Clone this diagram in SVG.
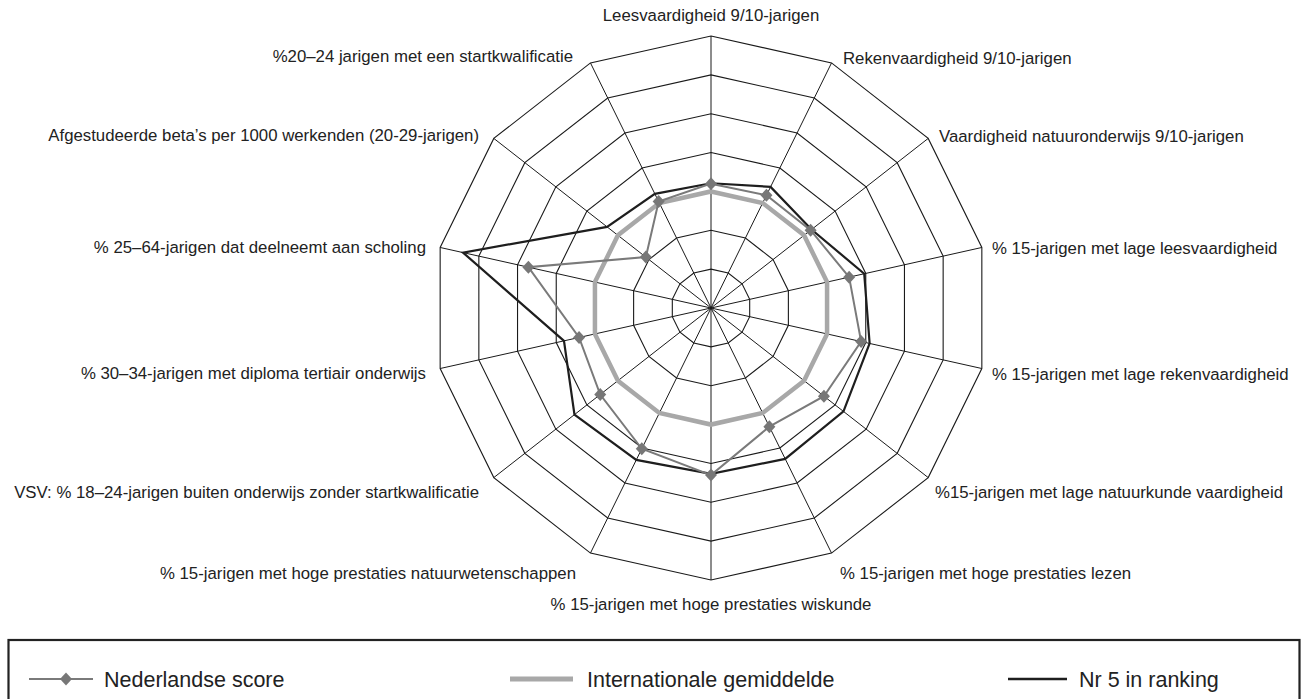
<svg xmlns="http://www.w3.org/2000/svg" xmlns:xlink="http://www.w3.org/1999/xlink" width="1308" height="699" viewBox="0 0 1308 699">
<style>
.ring{fill:none;stroke:#1a1a1a;stroke-width:1.1}
.spoke{stroke:#1a1a1a;stroke-width:1}
.intl{fill:none;stroke:#a8a8a8;stroke-width:4.5;stroke-linejoin:miter}
.nr5{fill:none;stroke:#1e1e1e;stroke-width:2.2;stroke-linejoin:miter}
.nl{fill:none;stroke:#7a7a7a;stroke-width:2}
.dm{fill:#777}
.lbl{font-family:"Liberation Sans",Arial,sans-serif;font-size:16.8px;fill:#222}
.leg{font-family:"Liberation Sans",Arial,sans-serif;font-size:21.5px;fill:#222}
</style>
<defs>
<path id="dmd" d="M0,-6.5 L6,0 L0,6.5 L-6,0Z"/>
</defs>
<rect width="1308" height="699" fill="#fff"/>
<g id="grid">
<polygon class="ring" points="711,269.14 728.22,272.99 742.03,283.77 749.69,299.35 749.69,316.65 742.03,332.23 728.22,343.01 711,346.86 693.78,343.01 679.97,332.23 672.31,316.65 672.31,299.35 679.97,283.77 693.78,272.99"/>
<polygon class="ring" points="711,230.29 745.44,237.98 773.06,259.55 788.38,290.71 788.38,325.29 773.06,356.45 745.44,378.02 711,385.71 676.56,378.02 648.94,356.45 633.62,325.29 633.62,290.71 648.94,259.55 676.56,237.98"/>
<polygon class="ring" points="711,191.43 762.66,202.97 804.08,235.32 827.07,282.06 827.07,333.94 804.08,380.68 762.66,413.03 711,424.57 659.34,413.03 617.92,380.68 594.93,333.94 594.93,282.06 617.92,235.32 659.34,202.97"/>
<polygon class="ring" points="711,152.57 779.88,167.96 835.11,211.09 865.76,273.42 865.76,342.58 835.11,404.91 779.88,448.04 711,463.43 642.12,448.04 586.89,404.91 556.24,342.58 556.24,273.42 586.89,211.09 642.12,167.96"/>
<polygon class="ring" points="711,113.71 797.1,132.95 866.14,186.86 904.46,264.77 904.46,351.23 866.14,429.14 797.1,483.05 711,502.29 624.9,483.05 555.86,429.14 517.54,351.23 517.54,264.77 555.86,186.86 624.9,132.95"/>
<polygon class="ring" points="711,74.86 814.31,97.95 897.17,162.64 943.15,256.12 943.15,359.88 897.17,453.36 814.31,518.05 711,541.14 607.69,518.05 524.83,453.36 478.85,359.88 478.85,256.12 524.83,162.64 607.69,97.95"/>
<polygon class="ring" points="711,36 831.53,62.94 928.2,138.41 981.84,247.48 981.84,368.52 928.2,477.59 831.53,553.06 711,580 590.47,553.06 493.8,477.59 440.16,368.52 440.16,247.48 493.8,138.41 590.47,62.94"/>
<line class="spoke" x1="711" y1="308" x2="711" y2="36"/>
<line class="spoke" x1="711" y1="308" x2="831.53" y2="62.94"/>
<line class="spoke" x1="711" y1="308" x2="928.2" y2="138.41"/>
<line class="spoke" x1="711" y1="308" x2="981.84" y2="247.48"/>
<line class="spoke" x1="711" y1="308" x2="981.84" y2="368.52"/>
<line class="spoke" x1="711" y1="308" x2="928.2" y2="477.59"/>
<line class="spoke" x1="711" y1="308" x2="831.53" y2="553.06"/>
<line class="spoke" x1="711" y1="308" x2="711" y2="580"/>
<line class="spoke" x1="711" y1="308" x2="590.47" y2="553.06"/>
<line class="spoke" x1="711" y1="308" x2="493.8" y2="477.59"/>
<line class="spoke" x1="711" y1="308" x2="440.16" y2="368.52"/>
<line class="spoke" x1="711" y1="308" x2="440.16" y2="247.48"/>
<line class="spoke" x1="711" y1="308" x2="493.8" y2="138.41"/>
<line class="spoke" x1="711" y1="308" x2="590.47" y2="62.94"/>
</g>
<g id="series">
<polygon id="internationaal" class="intl" points="711,191.43 762.66,202.97 804.08,235.32 827.07,282.06 827.07,333.94 804.08,380.68 762.66,413.03 711,424.57 659.34,413.03 617.92,380.68 594.93,333.94 594.93,282.06 617.92,235.32 659.34,202.97"/>
<polygon id="nr5" class="nr5" points="711,183.27 770.58,186.87 811.53,229.5 864.22,273.76 869.63,343.45 843.49,411.45 785.21,458.89 711,473.92 636.27,459.94 574.48,414.6 563.97,340.85 462.99,252.58 607.06,226.84 654.87,193.87"/>
<g id="nederland">
<polygon class="nl" points="711,183.66 766.45,195.27 810.6,230.23 849.13,277.13 861.12,341.55 823.94,396.19 769.37,426.68 711,475.09 641.78,448.74 600.23,394.49 579.06,337.48 528.38,267.19 645.84,257.12 658.65,201.57"/>
<use class="dm" xlink:href="#dmd" x="711" y="183.66"/>
<use class="dm" xlink:href="#dmd" x="766.45" y="195.27"/>
<use class="dm" xlink:href="#dmd" x="810.6" y="230.23"/>
<use class="dm" xlink:href="#dmd" x="849.13" y="277.13"/>
<use class="dm" xlink:href="#dmd" x="861.12" y="341.55"/>
<use class="dm" xlink:href="#dmd" x="823.94" y="396.19"/>
<use class="dm" xlink:href="#dmd" x="769.37" y="426.68"/>
<use class="dm" xlink:href="#dmd" x="711" y="475.09"/>
<use class="dm" xlink:href="#dmd" x="641.78" y="448.74"/>
<use class="dm" xlink:href="#dmd" x="600.23" y="394.49"/>
<use class="dm" xlink:href="#dmd" x="579.06" y="337.48"/>
<use class="dm" xlink:href="#dmd" x="528.38" y="267.19"/>
<use class="dm" xlink:href="#dmd" x="645.84" y="257.12"/>
<use class="dm" xlink:href="#dmd" x="658.65" y="201.57"/>
</g>
</g>
<g id="labels">
<text class="lbl" x="711" y="21" text-anchor="middle">Leesvaardigheid 9/10-jarigen</text>
<text class="lbl" x="843" y="64">Rekenvaardigheid 9/10-jarigen</text>
<text class="lbl" x="939" y="142">Vaardigheid natuuronderwijs 9/10-jarigen</text>
<text class="lbl" x="992" y="253.5">% 15-jarigen met lage leesvaardigheid</text>
<text class="lbl" x="992" y="379.5">% 15-jarigen met lage rekenvaardigheid</text>
<text class="lbl" x="935" y="497.5">%15-jarigen met lage natuurkunde vaardigheid</text>
<text class="lbl" x="840" y="579">% 15-jarigen met hoge prestaties lezen</text>
<text class="lbl" x="711" y="609.5" text-anchor="middle">% 15-jarigen met hoge prestaties wiskunde</text>
<text class="lbl" x="576" y="578.5" text-anchor="end">% 15-jarigen met hoge prestaties natuurwetenschappen</text>
<text class="lbl" x="479" y="497.5" text-anchor="end">VSV: % 18–24-jarigen buiten onderwijs zonder startkwalificatie</text>
<text class="lbl" x="426" y="378.5" text-anchor="end">% 30–34-jarigen met diploma tertiair onderwijs</text>
<text class="lbl" x="426" y="252.5" text-anchor="end">% 25–64-jarigen dat deelneemt aan scholing</text>
<text class="lbl" x="479" y="140.5" text-anchor="end">Afgestudeerde beta’s per 1000 werkenden (20-29-jarigen)</text>
<text class="lbl" x="573" y="62" text-anchor="end">%20–24 jarigen met een startkwalificatie</text>
</g>
<g id="legend">
<rect x="8.5" y="640" width="1291" height="80" fill="none" stroke="#222" stroke-width="2.2"/>
<line x1="29" y1="679" x2="93" y2="679" stroke="#7a7a7a" stroke-width="2"/>
<use class="dm" xlink:href="#dmd" x="66" y="679"/>
<text class="leg" x="104" y="686.5">Nederlandse score</text>
<line x1="510" y1="679" x2="573" y2="679" stroke="#a8a8a8" stroke-width="5"/>
<text class="leg" x="587" y="686.5">Internationale gemiddelde</text>
<line x1="1008" y1="679" x2="1067" y2="679" stroke="#1e1e1e" stroke-width="2.5"/>
<text class="leg" x="1079" y="686.5">Nr 5 in ranking</text>
</g>
</svg>
